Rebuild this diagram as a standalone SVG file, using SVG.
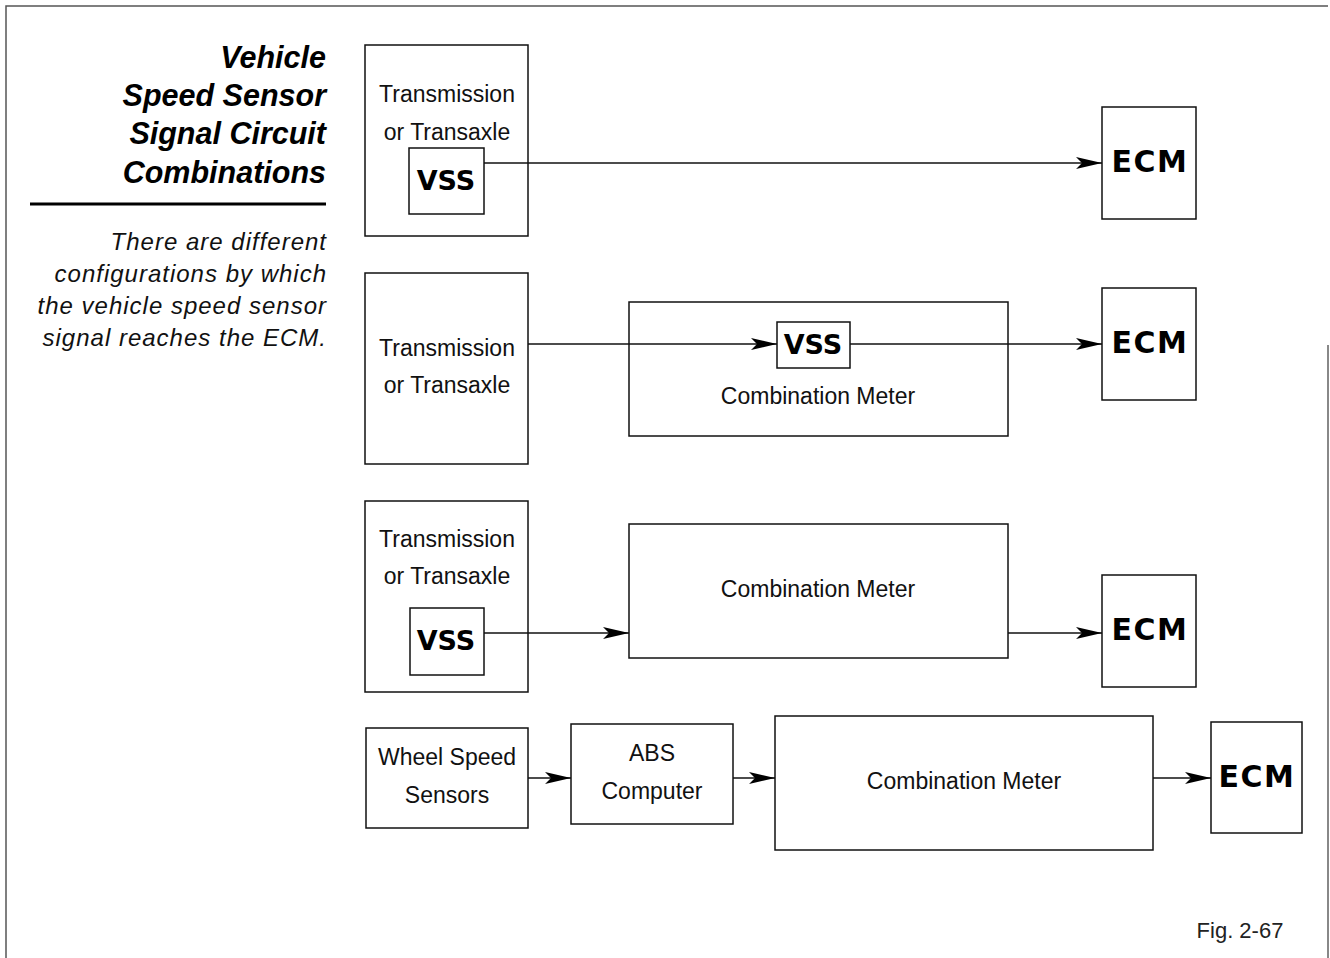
<svg xmlns="http://www.w3.org/2000/svg" width="1330" height="958" viewBox="0 0 1330 958">
<style>
.box{fill:#fff;stroke:#111;stroke-width:1.5}
.t{font-family:"Liberation Sans",Arial,sans-serif;font-size:23px;fill:#111;text-anchor:middle}
.b{font-family:"DejaVu Sans","Liberation Sans",sans-serif;font-size:30px;font-weight:bold;fill:#000;text-anchor:middle;letter-spacing:1.5px}
.v{font-family:"DejaVu Sans","Liberation Sans",sans-serif;font-size:27px;font-weight:bold;fill:#000;text-anchor:middle}
.title{font-family:"Liberation Sans",Arial,sans-serif;font-size:30.5px;font-weight:bold;font-style:italic;fill:#000;text-anchor:end}
.desc{font-family:"Liberation Sans",Arial,sans-serif;font-size:24px;font-style:italic;fill:#111;text-anchor:end;letter-spacing:1px}
.c{stroke:#111;stroke-width:1.5;fill:none;marker-end:url(#arr)}
</style>
<defs>
<marker id="arr" markerUnits="userSpaceOnUse" markerWidth="28" markerHeight="14" refX="26" refY="7" orient="auto">
<path d="M0,1 L26,7 L0,13 L6,7 Z" fill="#000"/>
</marker>
</defs>
<rect width="1330" height="958" fill="#fff"/>
<g id="frame">
<path d="M6,958 V6 H1328" fill="none" stroke="#555" stroke-width="1.5"/>
<path d="M1328,345 V958" fill="none" stroke="#888" stroke-width="2"/>
</g>
<g id="heading">
<text class="title" x="326" y="68">Vehicle</text>
<text class="title" x="326" y="106">Speed Sensor</text>
<text class="title" x="326" y="144">Signal Circuit</text>
<text class="title" x="326" y="183">Combinations</text>
<line x1="30" y1="204" x2="326" y2="204" stroke="#000" stroke-width="3"/>
<text class="desc" x="327" y="250">There are different</text>
<text class="desc" x="327" y="282">configurations by which</text>
<text class="desc" x="327" y="314">the vehicle speed sensor</text>
<text class="desc" x="327" y="346">signal reaches the ECM.</text>
</g>
<g id="trans1"><rect class="box" x="365" y="45" width="163" height="191"/>
<text class="t" x="447" y="102">Transmission</text><text class="t" x="447" y="140">or Transaxle</text></g>
<g id="vss1"><rect class="box" x="409" y="148" width="75" height="66"/><text class="v" x="446" y="190">VSS</text></g>
<g id="ecm1"><rect class="box" x="1102" y="107" width="94" height="112"/><text class="b" x="1150" y="172">ECM</text></g>

<g id="trans2"><rect class="box" x="365" y="273" width="163" height="191"/>
<text class="t" x="447" y="356">Transmission</text><text class="t" x="447" y="393">or Transaxle</text></g>
<g id="meter2"><rect class="box" x="629" y="302" width="379" height="134"/><text class="t" x="818" y="404">Combination Meter</text></g>
<g id="vss2"><rect class="box" x="777" y="322" width="73" height="46"/><text class="v" x="813" y="354">VSS</text></g>
<g id="ecm2"><rect class="box" x="1102" y="288" width="94" height="112"/><text class="b" x="1150" y="353">ECM</text></g>

<g id="trans3"><rect class="box" x="365" y="501" width="163" height="191"/>
<text class="t" x="447" y="547">Transmission</text><text class="t" x="447" y="584">or Transaxle</text></g>
<g id="vss3"><rect class="box" x="410" y="608" width="74" height="67"/><text class="v" x="446" y="650">VSS</text></g>
<g id="meter3"><rect class="box" x="629" y="524" width="379" height="134"/><text class="t" x="818" y="597">Combination Meter</text></g>
<g id="ecm3"><rect class="box" x="1102" y="575" width="94" height="112"/><text class="b" x="1150" y="640">ECM</text></g>

<g id="wheel"><rect class="box" x="366" y="728" width="162" height="100"/>
<text class="t" x="447" y="765">Wheel Speed</text><text class="t" x="447" y="803">Sensors</text></g>
<g id="abs"><rect class="box" x="571" y="724" width="162" height="100"/>
<text class="t" x="652" y="761">ABS</text><text class="t" x="652" y="799">Computer</text></g>
<g id="meter4"><rect class="box" x="775" y="716" width="378" height="134"/><text class="t" x="964" y="789">Combination Meter</text></g>
<g id="ecm4"><rect class="box" x="1211" y="722" width="91" height="111"/><text class="b" x="1257" y="787">ECM</text></g>

<g id="connectors">
<line class="c" x1="484" y1="163" x2="1102" y2="163"/>
<line class="c" x1="528" y1="344" x2="777" y2="344"/>
<line class="c" x1="850" y1="344" x2="1102" y2="344"/>
<line class="c" x1="484" y1="633" x2="629" y2="633"/>
<line class="c" x1="1008" y1="633" x2="1102" y2="633"/>
<line class="c" x1="528" y1="778" x2="571" y2="778"/>
<line class="c" x1="733" y1="778" x2="775" y2="778"/>
<line class="c" x1="1153" y1="778" x2="1211" y2="778"/>
</g>

<text x="1240" y="938" font-family="'Liberation Sans',Arial,sans-serif" font-size="22" fill="#222" text-anchor="middle">Fig. 2-67</text>
</svg>
